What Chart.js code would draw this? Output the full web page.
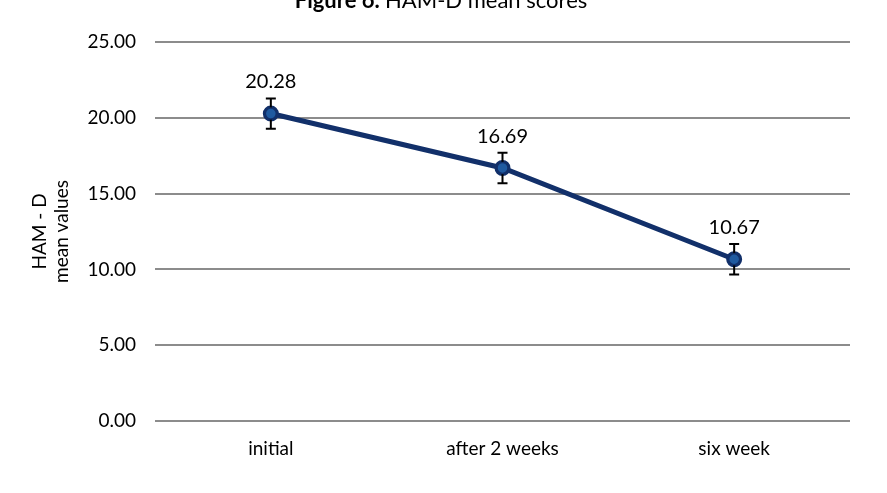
<!DOCTYPE html>
<html>
<head>
<meta charset="utf-8">
<script src="https://cdn.jsdelivr.net/npm/chart.js@4/dist/chart.umd.min.js"></script>
<style>
  html, body { margin: 0; padding: 0; background: #fff; }
  #wrap { width: 887px; height: 493px; }
</style>
</head>
<body>
<div id="wrap"><canvas id="hamdChart"></canvas></div>
<script>
// chart data
const categories = ['initial', 'after 2 weeks', 'six week'];
const meanScores = [20.28, 16.69, 10.67];
const errorSizes = [1.0, 1.0, 1.0];
const yTicks = [0, 5, 10, 15, 20, 25];

const FONT = 'Lato, "Open Sans", sans-serif';

// draws the cut-off figure caption at the top
const captionPlugin = {
  id: 'caption',
  afterDraw(chart) {
    const ctx = chart.ctx;
    const boldPart = 'Figure 6. ';
    const restPart = 'HAM-D mean scores';
    ctx.save();
    ctx.textBaseline = 'alphabetic';
    ctx.fillStyle = '#000';
    ctx.font = 'bold 22px ' + FONT;
    const w1 = ctx.measureText(boldPart).width;
    ctx.font = '22px ' + FONT;
    const w2 = ctx.measureText(restPart).width;
    let x = 441 - (w1 + w2) / 2;
    ctx.font = 'bold 22px ' + FONT;
    ctx.fillText(boldPart, x, 8);
    ctx.font = '22px ' + FONT;
    ctx.fillText(restPart, x + w1, 8);
    ctx.restore();
  }
};

// error bars and value labels
const errorBarPlugin = {
  id: 'errorBars',
  afterDatasetsDraw(chart) {
    const ctx = chart.ctx;
    const yScale = chart.scales.y;
    const meta = chart.getDatasetMeta(0);
    ctx.save();
    meta.data.forEach((pt, i) => {
      const x = pt.x;
      const top = yScale.getPixelForValue(meanScores[i] + errorSizes[i]);
      const bottom = yScale.getPixelForValue(meanScores[i] - errorSizes[i]);
      ctx.strokeStyle = '#000';
      ctx.lineWidth = 2;
      ctx.beginPath();
      ctx.moveTo(x, top); ctx.lineTo(x, bottom);
      ctx.moveTo(x - 5, top); ctx.lineTo(x + 5, top);
      ctx.moveTo(x - 5, bottom); ctx.lineTo(x + 5, bottom);
      ctx.stroke();
      // redraw marker over the bar
      ctx.beginPath();
      ctx.arc(x, pt.y, 5.5, 0, Math.PI * 2);
      ctx.fillStyle = '#1f5aa0';
      ctx.fill();
      ctx.lineWidth = 1.5;
      ctx.strokeStyle = '#12306a';
      ctx.stroke();
      // value label
      ctx.fillStyle = '#000';
      ctx.font = '20px ' + FONT;
      ctx.textAlign = 'center';
      ctx.textBaseline = 'alphabetic';
      ctx.fillText(meanScores[i].toFixed(2), x, top - 10);
    });
    ctx.restore();
  }
};

new Chart(document.getElementById('hamdChart'), {
  type: 'line',
  data: {
    labels: categories,
    datasets: [{
      data: meanScores,
      borderColor: '#12306a',
      borderWidth: 5,
      pointRadius: 5.5,
      pointBackgroundColor: '#1f5aa0',
      pointBorderColor: '#12306a',
      tension: 0
    }]
  },
  options: {
    responsive: true,
    maintainAspectRatio: false,
    animation: false,
    layout: { padding: { top: 42, right: 37, left: 0, bottom: 0 } },
    plugins: {
      legend: { display: false },
      tooltip: { enabled: false }
    },
    scales: {
      x: {
        offset: true,
        grid: { display: false, drawTicks: false },
        border: { display: false },
        ticks: { color: '#000', font: { family: FONT, size: 19 }, padding: 16 },
        afterFit(scale) { scale.height = 72; }
      },
      y: {
        min: 0,
        max: 25,
        afterBuildTicks(scale) { scale.ticks = yTicks.map(v => ({ value: v })); },
        grid: { color: '#8c8c8c', lineWidth: 2, drawTicks: false },
        border: { display: false },
        ticks: {
          color: '#000',
          font: { family: FONT, size: 19 },
          padding: 19,
          callback: v => Number(v).toFixed(2)
        },
        title: {
          display: true,
          text: ['HAM - D', 'mean values'],
          color: '#000',
          font: { family: FONT, size: 19, lineHeight: 1.15 },
          padding: { top: 29, bottom: 0 }
        },
        afterFit(scale) { scale.width = 155; }
      }
    }
  },
  plugins: [captionPlugin, errorBarPlugin]
});
</script>
</body>
</html>
